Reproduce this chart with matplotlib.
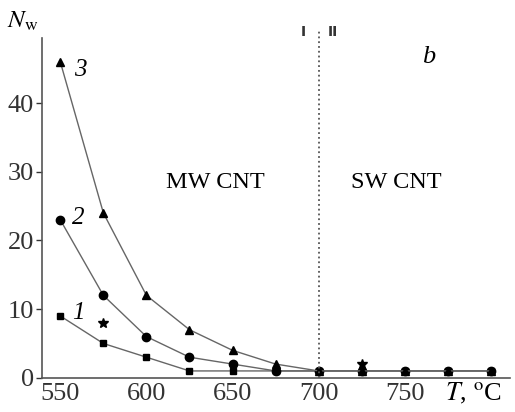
import matplotlib
matplotlib.use('Agg')
import matplotlib.pyplot as plt

T = [550, 575, 600, 625, 650, 675, 700, 725, 750, 775, 800]
curve1 = [9, 5, 3, 1, 1, 1, 1, 1, 1, 1, 1]
curve2 = [23, 12, 6, 3, 2, 1, 1, 1, 1, 1, 1]
curve3 = [46, 24, 12, 7, 4, 2, 1, 1, 1, 1, 1]
star_T = [575, 725]
star_N = [8, 2]

plt.rcParams['font.family'] = ['Liberation Serif', 'DejaVu Serif']
plt.rcParams['mathtext.fontset'] = 'stix'

fig = plt.figure(figsize=(5.15, 4.12), dpi=100)
ax = fig.add_axes([0.082, 0.083, 0.908, 0.825])

ax.plot(T, curve1, '-s', color='#666666', lw=1, mfc='black', mec='black', ms=4.5)
ax.plot(T, curve2, '-o', color='#666666', lw=1, mfc='black', mec='black', ms=6)
ax.plot(T, curve3, '-^', color='#666666', lw=1, mfc='black', mec='black', ms=5.5)
ax.plot(star_T, star_N, '*', color='black', ms=7, ls='none')

ax.axvline(700, ymin=0, ymax=1.02, color='#555555', ls=':', lw=1.3, clip_on=False)
ax.text(691, 50.4, 'I', family='DejaVu Sans', ha='center', va='center',
        fontsize=10, weight='bold', color='#333333')
ax.text(708.5, 50.4, 'II', family='DejaVu Sans', ha='center', va='center',
        fontsize=10, weight='bold', color='#333333')

ax.text(558, 44.8, '3', style='italic', fontsize=18, va='center')
ax.text(557, 23.2, '2', style='italic', fontsize=18, va='center')
ax.text(557, 9.4, '1', style='italic', fontsize=18, va='center')

ax.text(640, 28.5, 'MW CNT', ha='center', va='center', fontsize=17.5)
ax.text(745, 28.5, 'SW CNT', ha='center', va='center', fontsize=17.5)
ax.text(764, 46.7, 'b', style='italic', ha='center', va='center', fontsize=19)

ax.set_xlim(539.5, 811)
ax.set_ylim(0, 49.5)
ax.set_xticks([550, 600, 650, 700, 750])
ax.set_yticks([0, 10, 20, 30, 40])
ax.tick_params(labelsize=19, direction='out', width=1, colors='#333333')
ax.tick_params(axis='y', length=4, pad=2)
ax.tick_params(axis='x', length=0, pad=4)
for s in ['top', 'right']:
    ax.spines[s].set_visible(False)
for s in ['left', 'bottom']:
    ax.spines[s].set_color('#555555')
    ax.spines[s].set_linewidth(1.2)

ax.text(-0.075, 1.015, r'$N_{\mathrm{w}}$', transform=ax.transAxes, fontsize=18,
        ha='left', va='bottom')
ax.text(790, -2.3, r'$T$, $^{\mathrm{o}}$C', ha='center', va='center', fontsize=19)

fig.savefig('out.png', dpi=100)
